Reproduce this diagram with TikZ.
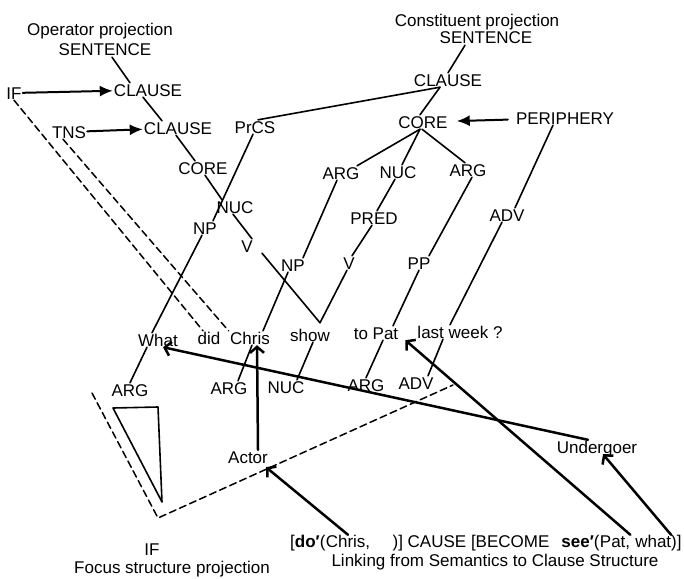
\documentclass[tikz,border=0pt]{standalone}
\usepackage{fontspec}
\setmainfont{Liberation Sans}
\usetikzlibrary{arrows.meta}
\begin{document}
\begin{tikzpicture}[font=\fontsize{17}{20}\selectfont, line join=round, line cap=round, >={Latex[length=13pt,width=11pt]}, x=1pt, y=-1pt,
	every node/.style={inner sep=1pt, text height=12pt, text depth=0pt},
	treeline/.style={line width=1.6pt},
	opline/.style={line width=2pt, ->},
	linkline/.style={line width=2.5pt, -{Straight Barb[length=6pt,width=14pt]}},
	focusline/.style={line width=1.5pt, dash pattern=on 7pt off 4pt}]
	\useasboundingbox (0,0) rectangle (684,578);
	\foreach \x/\y/\n/\t in {100/30/opproj/Operator projection, 105/50/opsent/SENTENCE, 14/93/if/IF, 148/90/opcl1/CLAUSE, 69/132/tns/TNS, 178/128/opcl2/CLAUSE, 203/168/opcore/CORE, 235/207/opnuc/NUC, 247/246/opv/V, 255/127/prcs/PrCS, 205/228/npw/NP}
		{\node (\n) at (\x,\y) {\t};}
	\foreach \x/\y/\n/\t in {477/21/cproj/Constituent projection, 486/38/csent/SENTENCE, 448/80/ccl/CLAUSE, 423/122/ccore/CORE, 565/118/periph/PERIPHERY, 341/173/carg1/ARG, 398/172/cnuc/NUC, 468/170/carg2/ARG, 293/265/np2/NP, 374/218/pred/PRED, 349/263/cv/V, 419/263/pp/PP, 507/215/adv/ADV}
		{\node (\n) at (\x,\y) {\t};}
	\foreach \x/\y/\n/\t in {158/340/what/What, 209/338/did/did, 250/338/chris/Chris, 310/335/show/show, 376/333/topat/to Pat, 460/332/lastweek/last week ?}
		{\node (\n) at (\x,\y) {\t};}
	\foreach \x/\y/\n/\t in {130/390/farg1/ARG, 229/388/farg2/ARG, 286/387/fnuc/NUC, 366/385/farg3/ARG, 416/383/fadv/ADV, 248/457/actor/Actor, 597/447/undergoer/Undergoer, 152/549/fif/IF, 172/567/fproj/Focus structure projection, 495/560/link/Linking from Semantics to Clause Structure}
		{\node (\n) at (\x,\y) {\t};}
	\node[anchor=base west, inner sep=0pt] (sdo) at (290,547) {[\textbf{do′}(};
	\node[anchor=base west, inner sep=0pt] (schris) at (sdo.base east) {Chris,};
	\node[anchor=base west, inner sep=0pt] (scause) at (schris.base east) {\hspace{22pt})] CAUSE [BECOME\hspace{12pt}\textbf{see′}(};
	\node[anchor=base west, inner sep=0pt] (spat) at (scause.base east) {Pat,};
	\node[anchor=base west, inner sep=0pt] (swhat) at (spat.base east) {\hspace{4.7pt}what)]};
	\draw[treeline] ([xshift=7pt]opsent.south) -- ([xshift=-18pt]opcl1.north);
	\draw[treeline] ([xshift=-5pt]opcl1.south) -- ([xshift=-16pt]opcl2.north);
	\draw[treeline] ([xshift=-2pt]opcl2.south) -- ([xshift=-8pt]opcore.north);
	\draw[treeline] ([xshift=2pt]opcore.south) -- ([xshift=-13pt]opnuc.north);
	\draw[treeline] ([xshift=-2pt]prcs.south) -- ([xshift=8pt]npw.north);
	\draw[treeline] ([xshift=-2pt]opnuc.south) -- ([xshift=5pt]opv.north);
	\draw[treeline] ([xshift=15pt]opv.south) -- ([xshift=10pt,yshift=5pt]show.north);
	\draw[treeline] ([xshift=-5pt]np2.south) -- ([xshift=13pt]chris.north);
	\draw[treeline] ([xshift=-4pt]carg1.south) -- ([xshift=10pt]np2.north);
	\draw[treeline] ([xshift=-3pt]ccore.south) -- ([xshift=16pt]carg1.north);
	\draw[treeline] ([xshift=-3pt]ccore.south) -- ([xshift=4pt]cnuc.north);
	\draw[treeline] ([xshift=-3pt]cnuc.south) -- ([xshift=3pt]pred.north);
	\draw[treeline] ([xshift=-2pt]pred.south) -- ([xshift=3pt]cv.north);
	\draw[treeline] ([xshift=-2pt]cv.south) -- ([xshift=10pt,yshift=5pt]show.north);
	\draw[treeline] ([xshift=-1pt]ccore.south) -- ([xshift=-3pt]carg2.north);
	\draw[treeline] ([xshift=4pt]carg2.south) -- ([xshift=10pt]pp.north);
	\draw[treeline] (pp.south) -- ([xshift=17pt]topat.north);
	\draw[treeline] ([xshift=-12pt]periph.south) -- ([xshift=8pt]adv.north);
	\draw[treeline] ([xshift=-5pt]adv.south) -- ([xshift=-10pt]lastweek.north);
	\draw[treeline] ([xshift=-21pt]csent.south) -- (ccl.north);
	\draw[treeline] ([xshift=-8pt]ccl.south) -- ([xshift=-3pt]ccore.north);
	\draw[treeline] ([xshift=3pt]prcs.north) -- ([xshift=-8pt]ccl.south);
	\draw[treeline] ([xshift=-3pt]npw.south) -- ([xshift=-6pt]what.north);
	\draw[treeline] ([xshift=-11pt]what.south) -- (farg1.north);
	\draw[treeline] ([xshift=2pt]chris.south) -- ([xshift=9pt]farg2.north);
	\draw[treeline] ([xshift=3pt]show.south) -- ([xshift=11pt]fnuc.north);
	\draw[treeline] ([xshift=7pt]topat.south) -- (farg3.north);
	\draw[treeline] ([xshift=-17pt]lastweek.south) -- ([xshift=12pt]fadv.north);
	\draw[opline] (if) -- (opcl1);
	\draw[opline] (tns) -- (opcl2);
	\draw[opline, shorten <=7pt, shorten >=8pt] (periph) -- (ccore);
	\draw[focusline] (if.south) -- ([xshift=-6pt]did.north);
	\draw[focusline] ([xshift=-6pt]tns.south) -- ([xshift=7pt]did.north east);
	\draw[focusline] (92,393) -- (158,518) -- (453,385);
	\draw[treeline] (113,408) -- (158,407) -- (162,502) -- cycle;
	\draw[linkline] ([xshift=-9pt]undergoer.north) -- ([xshift=5pt]what.south);
	\draw[linkline] ([xshift=10pt]actor.north) -- ([xshift=7pt]chris.south);
	\draw[linkline] (schris.north) -- ([xshift=-3pt,yshift=-3pt]actor.south east);
	\draw[linkline] (spat.north east) -- ([xshift=6pt]topat.south east);
	\draw[linkline] ([xshift=15pt]swhat.north) -- ([xshift=6pt]undergoer.south);
\end{tikzpicture}
\end{document}
